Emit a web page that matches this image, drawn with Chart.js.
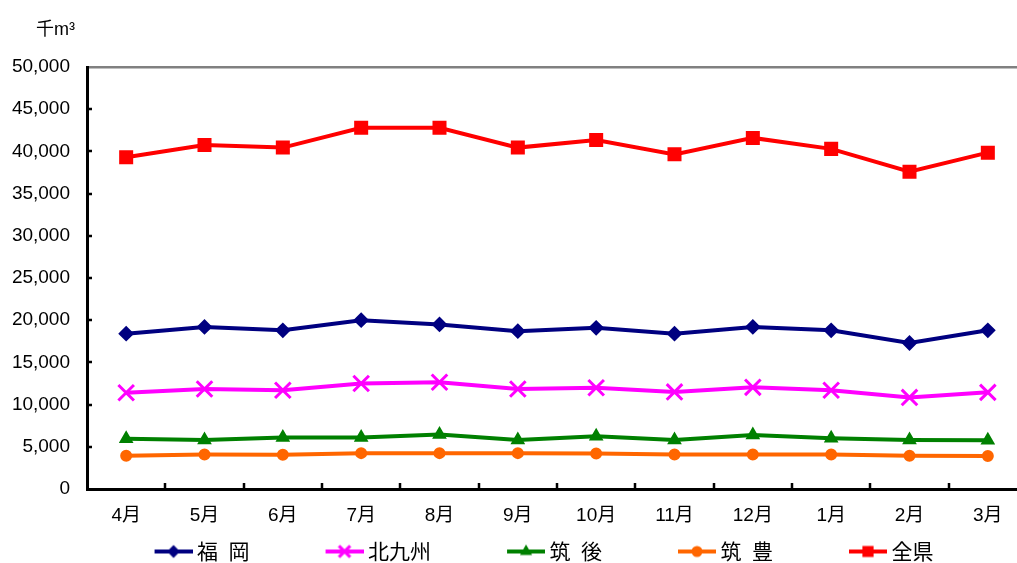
<!DOCTYPE html>
<html>
<head>
<meta charset="utf-8">
<script src="https://cdn.jsdelivr.net/npm/chart.js@4/dist/chart.umd.min.js"></script>
<style>
  html, body { margin: 0; padding: 0; background: #fff; overflow: hidden; }
  #wrap { width: 1017px; height: 563px; overflow: hidden; position: relative; }
  canvas { display: block; }
</style>
</head>
<body>
<div id="wrap"><canvas id="c" width="1060" height="580" style="width:1060px;height:580px"></canvas></div>
<script>
// 月別の数量（千m³）
const months = ['4月', '5月', '6月', '7月', '8月', '9月', '10月', '11月', '12月', '1月', '2月', '3月'];
const fukuoka    = [18400, 19200, 18800, 20000, 19500, 18700, 19100, 18400, 19200, 18800, 17300, 18800];
const kitakyushu = [11400, 11850, 11700, 12500, 12650, 11850, 12000, 11500, 12050, 11700, 10850, 11450];
const chikugo    = [5950, 5800, 6100, 6100, 6450, 5800, 6250, 5800, 6400, 6000, 5800, 5780];
const chikuho    = [3950, 4080, 4050, 4250, 4250, 4250, 4200, 4080, 4080, 4080, 3930, 3920];
const zenken     = [39300, 40750, 40450, 42800, 42800, 40450, 41350, 39650, 41600, 40300, 37600, 39850];

const seriesNames = ['福\u2002岡', '北九州', '筑\u2002後', '筑\u2002豊', '全県'];
const unitLabel = '千m³';
const yMin = 0, yMax = 50000, yStep = 5000;

const LEG_FONT = 21;
const SWATCH_W = 93;       // legend box width (includes blank lead-in)
const SWATCH_EXTRA = 6;    // swatch image overhang on each side

function makeSwatch(color, style, radius, borderWidth) {
  const c = document.createElement('canvas');
  c.width = SWATCH_W + SWATCH_EXTRA * 2;
  c.height = 22;
  const g = c.getContext('2d');
  const x0 = c.width - 38, x1 = c.width, y = c.height / 2;
  g.strokeStyle = color;
  g.lineWidth = 4;
  g.beginPath(); g.moveTo(x0, y); g.lineTo(x1, y); g.stroke();
  g.fillStyle = color;
  g.strokeStyle = color;
  g.lineWidth = borderWidth;
  Chart.helpers.drawPoint(g, { pointStyle: style, radius: radius, borderWidth: borderWidth, rotation: 0 }, (x0 + x1) / 2, y);
  return c;
}

function series(label, data, color, style, radius, bw, legRadius) {
  return {
    label, data,
    borderColor: color, backgroundColor: color,
    pointBackgroundColor: color, pointBorderColor: color,
    borderWidth: 4, pointStyle: style, pointRadius: radius, pointBorderWidth: bw,
    pointHoverRadius: radius, tension: 0,
    swatch: makeSwatch(color, style, legRadius, bw)
  };
}

const datasets = [
  series(seriesNames[0], fukuoka, '#000080', 'rectRot', 6.5, 2, 5),
  series(seriesNames[1], kitakyushu, '#FF00FF', 'crossRot', 11, 3, 8),
  series(seriesNames[2], chikugo, '#008000', 'triangle', 6.5, 2, 5),
  series(seriesNames[3], chikuho, '#FF6600', 'circle', 5, 2, 4.5),
  series(seriesNames[4], zenken, '#FF0000', 'rect', 8.5, 2, 6.5)
];

// inward tick marks on both axes, plus the unit caption
const axisDecor = {
  id: 'axisDecor',
  afterDatasetsDraw(chart) {
    const { ctx, chartArea: a, scales: { x, y } } = chart;
    ctx.save();
    ctx.strokeStyle = '#000';
    ctx.lineWidth = 2.5;
    ctx.beginPath();
    for (let i = 1; i < months.length; i++) {
      const px = Math.round((x.getPixelForTick(i - 1) + x.getPixelForTick(i)) / 2);
      ctx.moveTo(px, a.bottom); ctx.lineTo(px, a.bottom - 6);
    }
    for (let v = yMin + yStep; v < yMax; v += yStep) {
      const py = Math.round(y.getPixelForValue(v));
      ctx.moveTo(a.left, py); ctx.lineTo(a.left + 5, py);
    }
    ctx.stroke();
    ctx.fillStyle = '#000';
    ctx.font = '18px "Liberation Sans", "Noto Sans CJK JP", sans-serif';
    ctx.textAlign = 'left';
    ctx.textBaseline = 'alphabetic';
    ctx.fillText(unitLabel, 36, 35);
    ctx.restore();
  }
};

new Chart(document.getElementById('c'), {
  type: 'line',
  data: { labels: months, datasets },
  plugins: [axisDecor],
  options: {
    responsive: false,
    devicePixelRatio: 1,
    animation: false,
    events: [],
    layout: { padding: { left: 0, right: 33, top: 67, bottom: 8 } },
    plugins: {
      tooltip: { enabled: false },
      title: { display: false },
      legend: {
        position: 'bottom',
        align: 'center',
        labels: {
          usePointStyle: true,
          pointStyleWidth: SWATCH_W,
          padding: 15,
          color: '#000',
          font: { family: '"Noto Sans CJK JP", sans-serif', size: LEG_FONT },
          generateLabels(chart) {
            return chart.data.datasets.map((ds, i) => ({
              text: ds.label,
              pointStyle: ds.swatch,
              fillStyle: ds.borderColor,
              strokeStyle: ds.borderColor,
              lineWidth: 0,
              hidden: false,
              datasetIndex: i,
              fontColor: '#000'
            }));
          }
        }
      }
    },
    scales: {
      x: {
        offset: true,
        grid: { display: true, drawOnChartArea: false, drawTicks: false, offset: true },
        border: { display: true, color: '#000', width: 3 },
        ticks: {
          color: '#000', padding: 15, maxRotation: 0, autoSkip: false,
          font: { family: '"Liberation Sans", "Noto Sans CJK JP", sans-serif', size: 19 }
        },
        afterFit(s) { s.height = 37; }
      },
      y: {
        min: yMin, max: yMax,
        grid: {
          drawTicks: false,
          color: c => (c.tick && c.tick.value === yMax) ? '#808080' : 'rgba(0,0,0,0)',
          lineWidth: 2.5
        },
        border: { display: true, color: '#000', width: 3 },
        ticks: {
          stepSize: yStep, color: '#000', padding: 17,
          font: { family: '"Liberation Sans", sans-serif', size: 19 },
          callback: v => v.toLocaleString('en-US')
        },
        afterFit(s) { s.width = 87; }
      }
    }
  }
});
</script>
</body>
</html>
